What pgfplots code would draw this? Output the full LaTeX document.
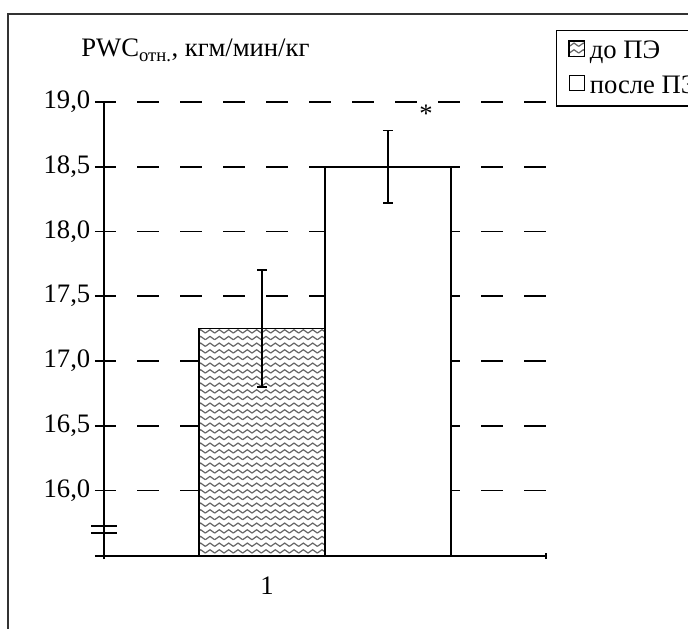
\documentclass[border=0pt]{standalone}
\usepackage{fontspec}
\setmainfont{Liberation Serif}
\usepackage{pgfplots}
\pgfplotsset{compat=1.18}
\usetikzlibrary{patterns}

% zigzag fill of the first bar
\pgfdeclarepatternformonly{zigzag}{\pgfqpoint{-1pt}{-1pt}}{\pgfqpoint{8pt}{6pt}}{\pgfqpoint{7pt}{5pt}}{%
  \pgfsetlinewidth{0.9pt}%
  \pgfpathmoveto{\pgfqpoint{0pt}{1.2pt}}%
  \pgfpathlineto{\pgfqpoint{3.5pt}{3.7pt}}%
  \pgfpathlineto{\pgfqpoint{7pt}{1.2pt}}%
  \pgfusepath{stroke}%
}

\pgfplotsset{
  box legend/.style={legend image code/.code={%
    \draw[##1, line width=0.9pt] (0pt,-4pt) rectangle (11.5pt,7.5pt);}},
  bar errors/.style={error bars/.cd, y dir=both, y explicit,
    error bar style={line width=1pt, black, solid},
    error mark options={rotate=90, mark size=3.75pt, line width=1.3pt, black, solid}},
}

\begin{document}
\begin{tikzpicture}[font=\fontsize{20pt}{24pt}\selectfont]
\useasboundingbox (-78pt,-54pt) rectangle (438pt,417pt);
\draw[line width=1.1pt, black!80] (-72pt,-60pt) -- (-72pt,406.5pt) -- (445pt,406.5pt);
\begin{axis}[
  scale only axis,
  width=331.5pt, height=340.5pt,
  xmin=0, xmax=1,
  ymin=15.494, ymax=19,
  axis lines*=left,
  axis line style={line width=1.4pt},
  every tick/.style={black, line width=1.4pt},
  tick align=center,
  major tick length=13.5pt,
  minor tick length=4.5pt,
  xtick={0.369}, xticklabels={1},
  xticklabel style={yshift=-5.5pt},
  major x tick style={draw=none},
  minor xtick={0,1},
  ytick={15.494,16,16.5,17,17.5,18,18.5,19},
  yticklabels={{},{16,0},{16,5},{17,0},{17,5},{18,0},{18,5},{19,0}},
  extra y ticks={15.672,15.726},
  extra y tick labels={},
  extra y tick style={major tick length=18.75pt, grid=none},
  ymajorgrids,
  grid style={black, line width=1.4pt, dash pattern=on 16.5pt off 15.75pt, dash phase=7.5pt},
  legend style={at={(1.0226,1.1586)}, anchor=north west, draw=black, line width=0.9pt,
    font=\fontsize{20pt}{24pt}\selectfont, cells={anchor=west},
    /tikz/every odd column/.append style={column sep=1.5pt},
    row sep=7pt, inner xsep=9pt, inner ysep=6pt},
]
\addplot[ybar, bar width=0.285, bar shift=0pt, draw=black, line width=1.2pt,
  preaction={fill=white}, pattern=zigzag, pattern color=black!60,
  box legend, bar errors]
  coordinates {(0.3575,17.25) +- (0,0.45)};
\addplot[ybar, bar width=0.285, bar shift=0pt, draw=black, line width=1.2pt, fill=white,
  box legend, bar errors]
  coordinates {(0.6425,18.5) +- (0,0.28)};
\node[anchor=base] at (axis cs:0.7285,18.845) {*};
\legend{до ПЭ, после ПЭ}
\end{axis}
\node[anchor=base west, inner sep=0pt] at (-17.25pt,374.25pt) {PWC\textsubscript{отн.}, кгм/мин/кг};
\end{tikzpicture}
\end{document}
